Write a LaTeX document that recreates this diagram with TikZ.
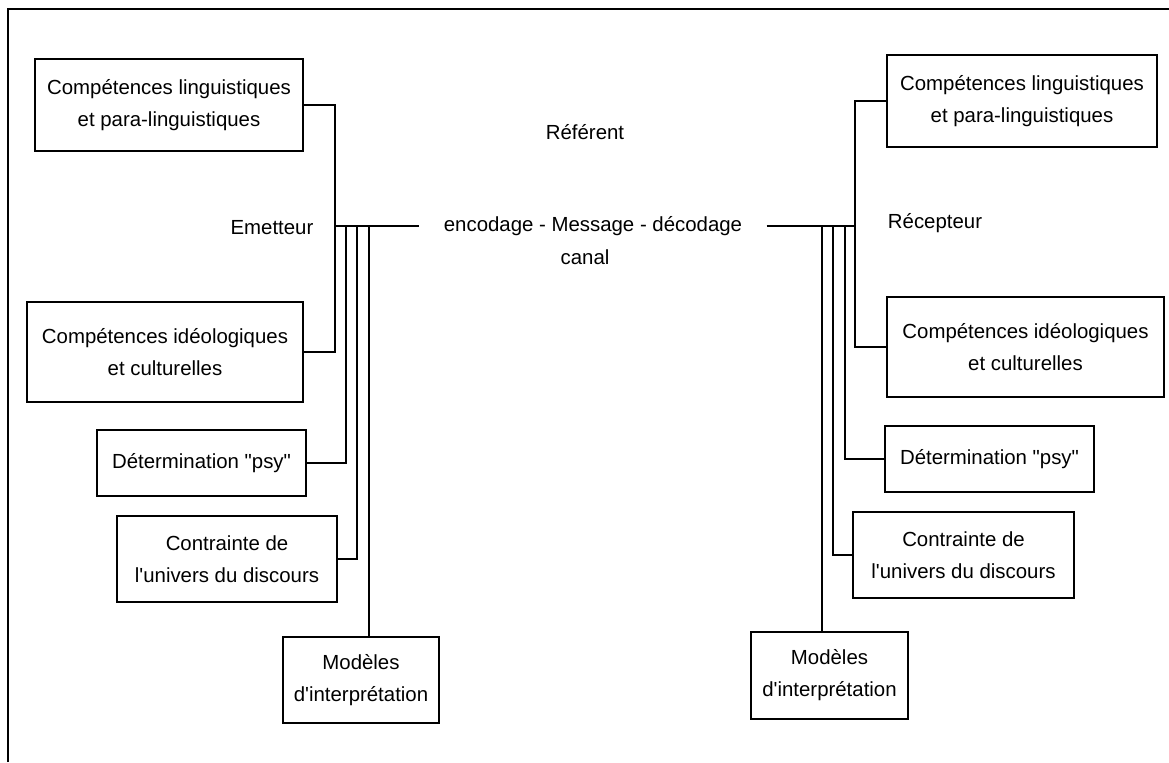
\documentclass[tikz,border=0pt]{standalone}
\usepackage{fontspec}
\setmainfont{Liberation Sans}
\usepackage{tikz}

\tikzset{
  box/.style={draw, line width=0.9pt, align=center, inner sep=0pt},
  lbl/.style={inner sep=0pt},
  link/.style={line width=0.8pt}
}

\begin{document}
\begin{tikzpicture}[x=0.5pt,y=-0.5pt,font=\fontsize{10.2}{16}\selectfont]
            \useasboundingbox (0,0) rectangle (1169,762);

            % Define the frame (top and left edges)
            \draw[line width=1pt] (8,762) -- (8,9) -- (1169,9);

            % Define the centre texts
            \node[lbl] (ref) at (585,132) {Référent};
            \node[lbl,inner xsep=12pt] (msg) at (593,226) {encodage - Message - décodage};
            \node[lbl] (canal) at (585,257) {canal};

            % Define the sender side
            \node[lbl] (emet) at (272,228) {Emetteur};
            \node[box,minimum width=134pt,minimum height=46pt] (l1) at (169,105) {Compétences linguistiques\\et para-linguistiques};
            \node[box,minimum width=138pt,minimum height=50pt] (l2) at (165,352) {Compétences idéologiques\\et culturelles};
            \node[box,minimum width=104.5pt,minimum height=33pt] (l3) at (201.5,463) {Détermination \textquotedbl psy\textquotedbl};
            \node[box,minimum width=110pt,minimum height=43pt] (l4) at (227,559) {Contrainte de\\l\textquotesingle univers du discours};
            \node[box,minimum width=78pt,minimum height=43pt] (l5) at (361,680) {Modèles\\d\textquotesingle interprétation};

            \coordinate (e0) at (335,226);
            \coordinate (e1) at (346,226);
            \coordinate (e2) at (357,226);
            \coordinate (e3) at (369,226);
            \draw[link] (l1.east) -| (e0);
            \draw[link] (l2.east) -| (e0);
            \draw[link] (l3.east) -| (e1);
            \draw[link] (l4.east) -| (e2);
            \draw[link] (e3) -- (e3 |- l5.north);
            \draw[link] (e0) -- (msg.west);

            % Define the receiver side
            \node[lbl] (recep) at (935,223) {Récepteur};
            \node[box,minimum width=135pt,minimum height=46pt] (r1) at (1022,101) {Compétences linguistiques\\et para-linguistiques};
            \node[box,minimum width=138.5pt,minimum height=50pt] (r2) at (1025.5,347) {Compétences idéologiques\\et culturelles};
            \node[box,minimum width=104.5pt,minimum height=33pt] (r3) at (989.5,459) {Détermination \textquotedbl psy\textquotedbl};
            \node[box,minimum width=110.5pt,minimum height=43pt] (r4) at (963.5,555) {Contrainte de\\l\textquotesingle univers du discours};
            \node[box,minimum width=78.5pt,minimum height=43.5pt] (r5) at (829.5,675.5) {Modèles\\d\textquotesingle interprétation};

            \coordinate (d0) at (855,226);
            \coordinate (d1) at (845,226);
            \coordinate (d2) at (833,226);
            \coordinate (d3) at (822,226);
            \draw[link] (r1.west) -| (d0);
            \draw[link] (r2.west) -| (d0);
            \draw[link] (r3.west) -| (d1);
            \draw[link] (r4.west) -| (d2);
            \draw[link] (d3) -- (d3 |- r5.north);
            \draw[link] (msg.east) -- (d0);

        \end{tikzpicture}
\end{document}
